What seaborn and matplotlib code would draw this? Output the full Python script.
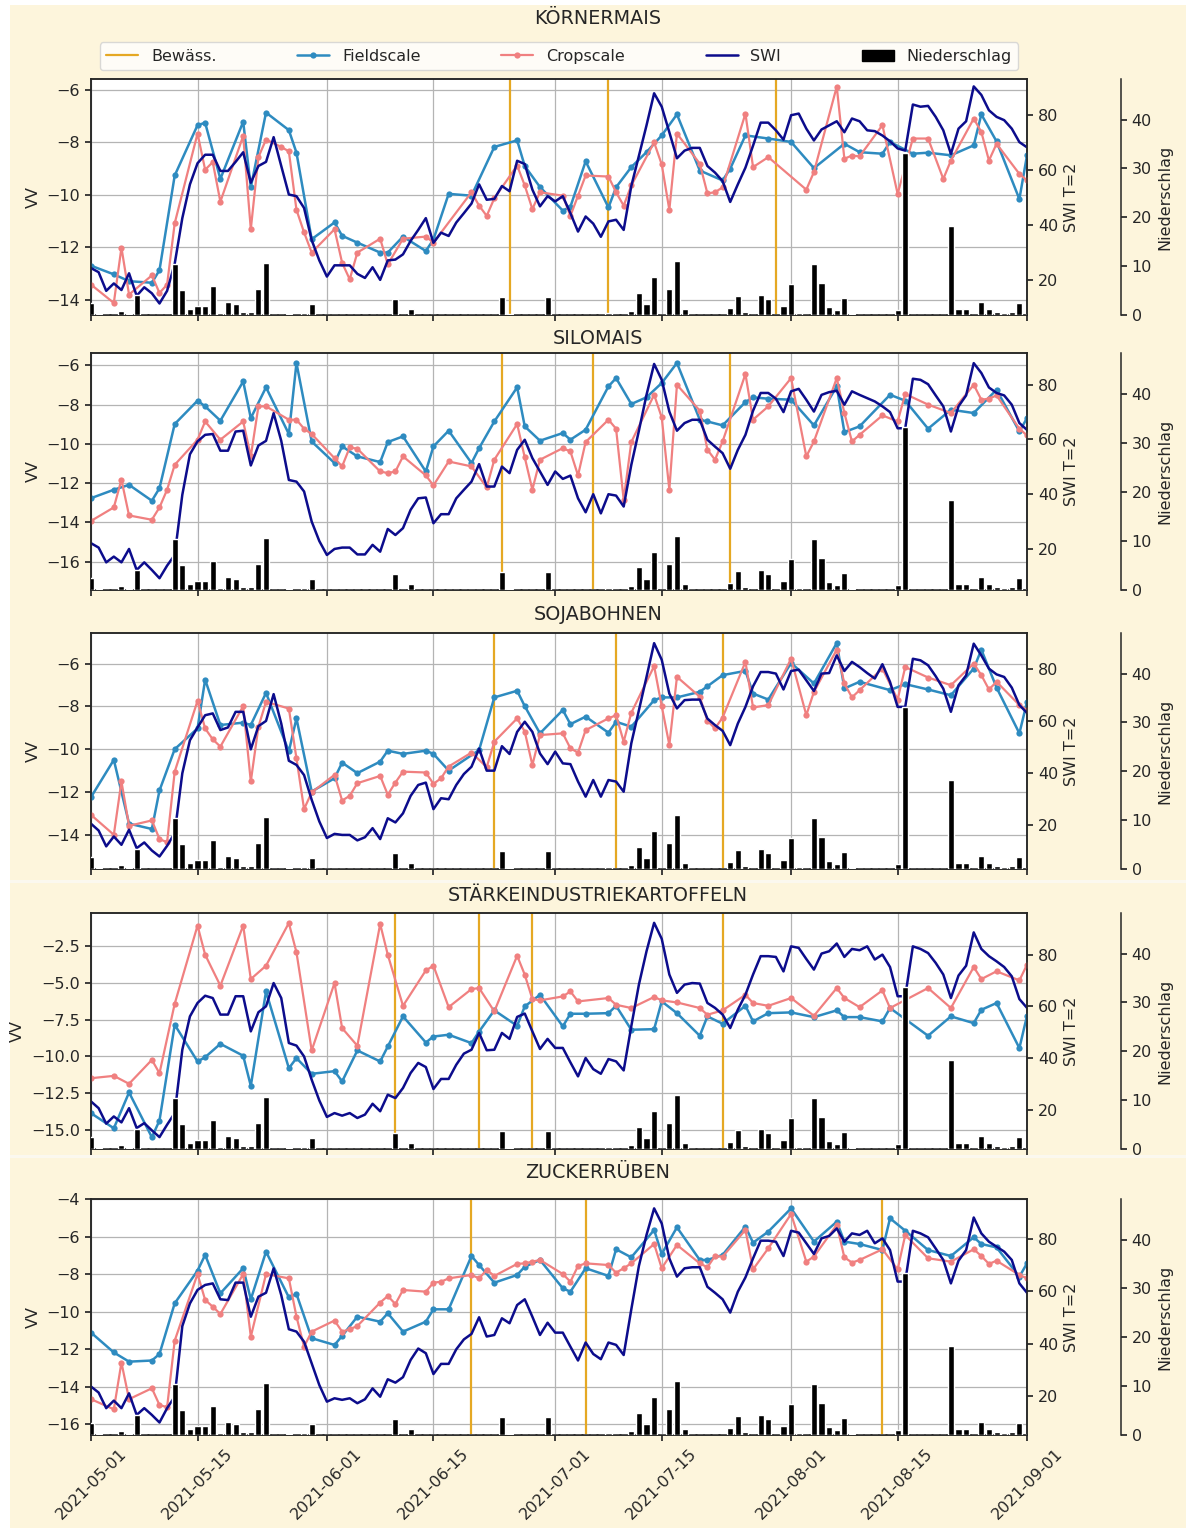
import pandas as pd
import matplotlib
matplotlib.use("Agg")
import matplotlib.pyplot as plt
import matplotlib.dates as mdates
from matplotlib.lines import Line2D
from matplotlib.patches import Patch, Rectangle
import seaborn as sns

START = pd.Timestamp("2021-05-01")
END = pd.Timestamp("2021-09-01")
DAYS = pd.date_range(START, END)  # daily, 124 values

TICK_DATES = ["2021-05-01", "2021-05-15", "2021-06-01", "2021-06-15", "2021-07-01",
              "2021-07-15", "2021-08-01", "2021-08-15", "2021-09-01"]

# Niederschlag (mm/Tag), 2021-05-01 ... 2021-09-01
niederschlag = [
    2.4, 0.15, 0, 0, 0.9, 0.3, 4.1, 0, 0, 0,
    0, 10.4, 5.1, 1.2, 1.9, 1.9, 6.0, 0.5, 2.6, 2.2,
    0.7, 0.7, 5.3, 10.6, 0, 0, 0.15, 0, 0.5, 2.2,
    0.1, 0, 0, 0, 0, 0, 0, 0, 0, 0,
    3.2, 0, 1.2, 0, 0, 0, 0, 0, 0, 0,
    0, 0, 0, 0, 3.7, 0.3, 0, 0, 0, 0,
    3.7, 0, 0, 0, 0, 0, 0, 0, 0.5, 0,
    0, 0.9, 4.6, 2.2, 7.7, 0, 5.3, 11.1, 1.2, 0,
    0, 0, 0, 0, 1.4, 3.9, 0.7, 0, 4.0, 3.3,
    0, 1.9, 6.3, 0.5, 0, 10.4, 6.5, 1.7, 1.0, 3.4,
    0.2, 0, 0, 0, 0, 0, 1.0, 33.2, 0, 0,
    0, 0, 0, 18.3, 1.2, 1.2, 0, 2.6, 1.2, 0.7,
    0.4, 0.7, 2.4, 0,
]

# ---------------- KÖRNERMAIS ----------------
km_field_day = [0, 3, 5, 8, 9, 11, 14, 15, 17, 20, 21, 23, 26, 27, 29, 32, 33, 35, 38, 39, 41, 44, 45, 47,
                50, 53, 56, 57, 59, 62, 63, 65, 68, 69, 71, 73, 75, 77, 80, 83, 84, 86, 89, 92, 95, 99, 101,
                104, 105, 108, 110, 113, 116, 117, 119, 122, 123]
km_field_vv = [-12.7, -13.03, -13.29, -13.35, -12.87, -9.26, -7.34, -7.25, -9.39, -7.21, -9.71, -6.86,
               -7.53, -8.39, -11.69, -11.05, -11.56, -11.82, -12.2, -12.2, -11.59, -12.14, -11.7, -9.96,
               -10.03, -8.17, -7.92, -8.9, -9.7, -10.6, -10.45, -8.72, -10.48, -9.71, -8.94, -8.37, -7.73,
               -6.93, -9.07, -9.45, -9.0, -7.73, -7.85, -7.98, -8.98, -8.05, -8.37, -8.43, -7.98, -8.43,
               -8.39, -8.49, -8.11, -6.93, -7.96, -10.16, -8.49]
km_crop_day = [0, 3, 4, 5, 8, 9, 10, 11, 14, 15, 16, 17, 20, 21, 22, 23, 25, 26, 27, 28, 29, 32, 33, 34, 35,
               38, 39, 41, 44, 45, 50, 51, 52, 53, 56, 57, 58, 59, 62, 63, 64, 65, 68, 69, 70, 71, 74, 75,
               76, 77, 80, 81, 82, 83, 86, 87, 89, 94, 95, 98, 99, 100, 101, 104, 106, 108, 110, 112, 113,
               116, 117, 118, 119, 122, 123]
km_crop_vv = [-13.42, -14.12, -12.01, -13.8, -13.07, -13.74, -13.42, -11.08, -7.66, -9.04, -8.75, -10.26,
              -7.75, -11.31, -8.56, -7.89, -8.17, -8.34, -10.57, -11.43, -12.2, -11.31, -12.59, -13.22,
              -12.2, -11.67, -12.65, -11.67, -11.59, -11.82, -9.9, -10.41, -10.8, -10.13, -8.88, -9.64,
              -10.54, -9.9, -10.03, -10.8, -10.03, -9.26, -9.3, -9.9, -10.41, -9.64, -8.0, -8.84, -10.57,
              -7.66, -8.81, -9.94, -9.9, -9.71, -6.9, -8.94, -8.56, -9.8, -9.13, -5.87, -8.62, -8.5, -8.53,
              -7.34, -9.96, -7.85, -7.85, -9.39, -8.69, -7.09, -7.6, -8.69, -8.05, -9.2, -9.45]
km_swi = [24.3, 22.8, 16.0, 18.7, 16.3, 22.4, 14.2, 17.3, 15.1, 11.4, 16.0,
          25.9, 42.5, 54.8, 62.5, 65.6, 65.6, 59.7, 59.7, 63.0, 66.5,
          55.4, 61.5, 63.0, 72.0, 61.5, 51.1, 50.5, 46.2, 34.5, 27.1,
          21.2, 25.3, 25.3, 25.3, 22.2, 20.7, 24.6, 20.0, 27.1, 27.4,
          29.3, 34.2, 38.2, 42.5, 33.5, 37.2, 36.0, 40.9, 44.3, 47.8,
          54.8, 49.2, 49.5, 54.2, 52.3, 63.4, 62.2, 52.9, 46.8, 50.5,
          48.6, 50.5, 44.3, 37.6, 43.1, 40.5, 35.7, 41.3, 41.9, 38.2,
          54.2, 65.2, 76.3, 88.0, 83.1, 73.8, 64.3, 67.1, 68.1, 68.1,
          61.5, 59.1, 56.0, 48.4, 54.8, 60.9, 68.9, 77.3, 77.3, 74.5,
          71.1, 80.0, 80.6, 75.1, 70.8, 74.8, 76.3, 77.8, 73.8, 78.8,
          77.8, 74.5, 74.2, 72.6, 70.5, 67.9, 67.1, 83.9, 83.1, 83.4,
          79.4, 74.5, 65.9, 75.1, 77.8, 90.5, 87.4, 81.8, 79.4, 78.2,
          75.1, 70.2, 68.3]
km_irrigation = [55, 68, 90]

# ---------------- SILOMAIS ----------------
sm_field_day = [0, 3, 5, 8, 9, 11, 14, 15, 17, 20, 21, 23, 26, 27, 29, 32, 33, 35, 38, 39, 41, 44, 45, 47,
                50, 51, 53, 56, 57, 59, 62, 63, 65, 68, 69, 71, 73, 75, 77, 80, 81, 83, 86, 87, 89, 92, 95,
                98, 99, 101, 105, 107, 110, 113, 116, 119, 122, 123]
sm_field_vv = [-12.77, -12.34, -12.09, -12.9, -12.26, -8.99, -7.8, -8.09, -8.82, -6.82, -8.69, -7.12, -9.5,
               -5.88, -9.88, -10.98, -10.13, -10.64, -10.93, -9.91, -9.62, -11.41, -10.13, -9.33, -10.98,
               -10.22, -8.86, -7.12, -9.11, -9.84, -9.45, -9.79, -9.28, -7.07, -6.65, -7.97, -7.63, -6.9,
               -5.88, -8.77, -8.86, -9.06, -7.87, -7.63, -7.7, -7.75, -9.06, -7.07, -9.4, -9.11, -7.5, -7.8,
               -9.23, -8.26, -8.43, -7.24, -9.37, -8.69]
sm_crop_day = [0, 3, 4, 5, 8, 9, 10, 11, 14, 15, 17, 20, 21, 22, 23, 26, 27, 28, 29, 32, 33, 34, 35, 38, 39,
               40, 41, 44, 45, 47, 50, 52, 53, 56, 57, 58, 59, 62, 63, 64, 65, 68, 69, 70, 71, 74, 75, 76,
               77, 80, 81, 82, 83, 86, 87, 89, 92, 94, 95, 98, 99, 100, 101, 104, 106, 107, 110, 113, 116,
               117, 118, 119, 122, 123]
sm_crop_vv = [-13.93, -13.24, -11.83, -13.65, -13.87, -13.24, -12.34, -11.07, -9.79, -8.86, -9.79, -8.86,
              -10.64, -8.09, -8.09, -8.77, -8.77, -9.23, -9.5, -10.73, -11.15, -10.18, -10.25, -11.41,
              -11.49, -11.41, -10.64, -11.61, -12.12, -10.9, -11.15, -12.22, -10.81, -8.99, -10.69, -12.34,
              -10.81, -10.22, -10.39, -11.61, -9.91, -8.77, -9.23, -12.85, -9.91, -7.5, -8.65, -12.34,
              -6.99, -8.31, -10.3, -10.81, -9.88, -6.44, -8.77, -8.09, -6.65, -10.64, -9.88, -6.65, -8.43,
              -9.88, -9.54, -8.55, -8.86, -7.46, -8.0, -8.43, -6.99, -7.75, -7.7, -7.53, -9.23, -9.57]
sm_swi = [22.1, 20.5, 15.1, 17.2, 15.1, 20.0, 12.3, 15.1, 12.3, 9.3, 13.9,
          17.8, 39.8, 54.6, 59.3, 61.7, 62.0, 55.9, 55.9, 62.9, 63.2,
          50.5, 57.8, 59.5, 69.6, 59.5, 45.2, 44.6, 41.0, 30.0, 22.9,
          17.8, 20.0, 20.5, 20.5, 18.0, 18.0, 21.5, 19.0, 27.3, 25.1,
          27.6, 34.3, 38.5, 38.8, 29.4, 32.7, 32.7, 38.5, 41.6, 44.6,
          51.0, 42.8, 42.8, 50.1, 47.7, 56.2, 59.9, 53.2, 48.3, 43.4,
          48.3, 45.6, 46.8, 38.5, 33.4, 40.0, 33.0, 40.0, 39.5, 35.5,
          50.7, 63.2, 76.3, 87.6, 81.8, 70.2, 63.2, 66.0, 67.2, 67.2,
          59.9, 57.4, 55.0, 49.3, 56.2, 61.7, 70.5, 77.0, 77.0, 74.9,
          70.0, 77.6, 78.5, 74.5, 70.2, 76.3, 77.3, 77.8, 72.7, 77.6,
          76.3, 75.1, 73.9, 72.1, 70.0, 64.1, 64.1, 82.2, 81.8, 80.2,
          76.1, 72.1, 62.9, 72.1, 76.1, 87.9, 84.3, 79.0, 77.0, 76.1,
          72.7, 66.0, 63.5]
sm_irrigation = [54, 66, 84]

# ---------------- SOJABOHNEN ----------------
sb_field_day = [0, 3, 5, 8, 9, 11, 14, 15, 17, 20, 21, 23, 26, 27, 29, 32, 33, 35, 38, 39, 41, 44, 45, 47,
                51, 53, 56, 57, 59, 62, 63, 65, 68, 69, 71, 74, 75, 77, 80, 81, 83, 86, 87, 89, 92, 95, 98,
                99, 101, 105, 107, 110, 113, 116, 117, 119, 122, 123]
sb_field_vv = [-12.24, -10.5, -13.48, -13.73, -11.93, -10.0, -9.03, -6.75, -8.87, -8.76, -8.87, -7.37,
               -10.1, -8.56, -11.98, -11.36, -10.63, -11.12, -10.58, -10.07, -10.22, -10.07, -10.22, -11.0,
               -10.04, -7.58, -7.27, -7.99, -9.26, -8.17, -8.83, -8.48, -9.23, -8.72, -8.95, -7.71, -7.58,
               -7.58, -7.32, -7.06, -6.54, -6.34, -7.4, -7.68, -5.97, -6.93, -5.04, -7.16, -6.85, -7.24,
               -6.96, -7.21, -7.48, -6.23, -5.35, -7.12, -9.26, -7.79]
sb_crop_day = [0, 3, 4, 5, 8, 9, 10, 11, 14, 15, 16, 17, 20, 21, 22, 23, 26, 27, 28, 29, 32, 33, 34, 35, 38,
               39, 40, 41, 44, 45, 46, 47, 50, 52, 53, 56, 57, 58, 59, 62, 63, 64, 65, 68, 69, 70, 71, 74,
               75, 76, 77, 80, 81, 82, 83, 86, 87, 89, 92, 94, 95, 98, 99, 100, 101, 104, 106, 107, 110,
               113, 116, 117, 118, 119, 122, 123]
sb_crop_vv = [-13.07, -14.0, -11.51, -13.58, -13.33, -14.2, -14.35, -11.05, -7.74, -9.03, -9.54, -9.88,
              -7.99, -11.51, -8.95, -7.79, -8.1, -10.43, -12.8, -12.02, -11.2, -12.4, -12.18, -11.59,
              -11.25, -12.13, -11.56, -11.05, -11.09, -11.62, -11.36, -10.81, -10.16, -10.84, -9.65, -8.56,
              -9.18, -10.74, -9.34, -9.26, -9.96, -10.16, -9.11, -8.56, -8.41, -9.65, -8.3, -6.12, -7.99,
              -9.8, -6.62, -7.55, -8.67, -9.03, -8.52, -5.92, -8.05, -7.94, -5.77, -8.41, -7.32, -5.35,
              -6.93, -7.58, -7.24, -6.23, -7.68, -6.16, -6.65, -7.01, -6.0, -6.54, -7.21, -6.85, -7.94,
              -8.17]
sb_swi = [20.4, 17.8, 11.7, 15.5, 12.3, 18.1, 11.0, 13.2, 10.1, 7.8, 11.9,
          16.8, 39.8, 52.5, 57.4, 62.1, 62.8, 56.4, 57.4, 63.4, 63.4,
          49.0, 57.9, 59.9, 70.2, 58.9, 44.6, 43.0, 39.1, 29.6, 21.3,
          14.9, 16.5, 16.1, 16.1, 14.0, 15.2, 18.7, 14.5, 22.5, 20.9,
          24.4, 31.1, 35.3, 36.2, 26.0, 30.2, 29.8, 35.3, 39.5, 42.3,
          49.3, 40.8, 40.8, 50.2, 47.2, 55.7, 59.6, 55.7, 47.4, 43.3,
          48.1, 43.6, 43.3, 36.6, 30.8, 37.2, 30.8, 37.2, 36.6, 32.7,
          51.3, 64.0, 76.8, 89.8, 83.4, 70.4, 64.7, 67.9, 68.1, 68.1,
          60.8, 58.3, 56.1, 50.6, 58.9, 65.3, 73.2, 78.7, 78.7, 78.1,
          72.0, 79.1, 79.6, 75.5, 71.4, 78.1, 78.3, 85.1, 79.1, 82.6,
          80.6, 78.3, 76.2, 81.7, 74.9, 65.3, 65.3, 83.8, 83.2, 81.3,
          77.1, 72.3, 63.4, 73.6, 77.4, 89.6, 85.1, 80.0, 77.8, 76.8,
          72.7, 66.0, 63.0]
sb_irrigation = [53, 69, 83]

# ---------------- STÄRKEINDUSTRIEKARTOFFELN ----------------
sk_field_day = [0, 3, 5, 8, 9, 11, 14, 15, 17, 20, 21, 23, 26, 27, 29, 32, 33, 35, 38, 39, 41, 44, 45, 47,
                50, 51, 53, 56, 57, 59, 62, 63, 65, 68, 69, 71, 74, 75, 77, 80, 81, 83, 86, 87, 89, 92, 95,
                98, 99, 101, 104, 105, 110, 113, 116, 117, 119, 122, 123]
sk_field_vv = [-13.86, -14.89, -12.45, -15.5, -14.36, -7.84, -10.34, -10.05, -9.14, -9.95, -12.0, -5.57,
               -10.8, -10.11, -11.18, -11.0, -11.7, -9.59, -10.34, -9.32, -7.27, -9.05, -8.64, -8.52, -9.09,
               -8.3, -6.86, -7.91, -6.59, -5.8, -7.95, -7.09, -7.09, -7.05, -6.55, -8.18, -8.14, -6.25,
               -7.05, -8.59, -7.27, -7.77, -6.55, -7.61, -7.05, -7.0, -7.32, -6.86, -7.32, -7.32, -7.61,
               -6.7, -8.59, -7.27, -7.73, -6.82, -6.36, -9.43, -7.23]
sk_crop_day = [0, 3, 5, 8, 9, 11, 14, 15, 17, 20, 21, 23, 26, 27, 29, 32, 33, 35, 38, 39, 41, 44, 45, 47,
               50, 51, 53, 56, 57, 58, 59, 62, 63, 64, 68, 69, 71, 74, 75, 77, 80, 81, 83, 86, 87, 89, 92,
               95, 98, 99, 101, 104, 105, 110, 113, 116, 117, 119, 122, 123]
sk_crop_vv = [-11.48, -11.32, -11.86, -10.23, -11.14, -6.41, -1.09, -3.07, -5.18, -1.09, -4.73, -3.82,
              -0.91, -2.91, -9.59, -5.0, -8.07, -9.27, -0.98, -3.07, -6.55, -4.14, -3.82, -6.64, -5.41,
              -5.34, -6.93, -3.14, -4.43, -6.09, -6.18, -5.91, -5.57, -6.25, -6.02, -6.48, -6.7, -5.95,
              -6.18, -6.32, -6.7, -7.16, -6.86, -5.8, -6.36, -6.55, -6.02, -7.23, -5.34, -6.02, -6.64,
              -5.5, -6.7, -5.34, -6.7, -3.91, -4.73, -4.2, -4.82, -3.75]
sk_swi = [23.2, 20.6, 14.6, 17.4, 15.1, 20.6, 12.9, 14.8, 12.0, 9.4, 14.2,
          18.7, 43.2, 56.1, 61.3, 64.1, 63.2, 56.8, 56.8, 63.9, 63.9,
          50.3, 57.7, 60.0, 69.0, 63.2, 45.8, 44.8, 40.6, 31.6, 23.6,
          17.2, 18.7, 17.7, 18.7, 16.8, 18.1, 22.3, 19.4, 25.8, 24.5,
          28.4, 34.2, 38.1, 36.5, 28.0, 31.9, 31.9, 37.4, 41.7, 43.2,
          49.7, 43.0, 43.2, 49.7, 47.4, 55.9, 57.2, 50.3, 43.5, 47.4,
          43.9, 43.9, 38.3, 32.9, 40.0, 35.7, 33.9, 39.6, 38.7, 35.2,
          52.3, 68.4, 81.3, 92.3, 86.1, 72.3, 65.2, 68.4, 69.0, 68.8,
          61.3, 59.4, 56.8, 51.6, 58.7, 64.5, 72.3, 79.4, 79.4, 79.1,
          73.5, 83.2, 82.6, 78.3, 74.2, 80.4, 81.3, 84.3, 79.1, 82.2,
          81.7, 83.2, 78.1, 80.0, 75.2, 63.9, 63.9, 83.2, 82.2, 80.6,
          76.8, 72.3, 63.2, 71.9, 75.7, 88.6, 82.2, 79.4, 77.4, 75.2,
          71.6, 62.8, 59.4]
sk_irrigation = [40, 51, 58, 83]

# ---------------- ZUCKERRÜBEN ----------------
zr_field_day = [0, 3, 5, 8, 9, 11, 14, 15, 17, 20, 21, 23, 26, 27, 29, 32, 33, 35, 38, 39, 41, 44, 45, 47,
                50, 51, 53, 56, 57, 59, 62, 63, 65, 68, 69, 71, 74, 75, 77, 80, 81, 83, 86, 87, 89, 92, 95,
                98, 99, 101, 104, 105, 107, 110, 113, 116, 117, 119, 122, 123]
zr_field_vv = [-11.12, -12.18, -12.67, -12.61, -12.26, -9.56, -7.82, -6.98, -9.03, -7.69, -9.35, -6.81,
               -9.24, -9.06, -11.42, -11.78, -11.3, -10.27, -10.54, -10.09, -11.07, -10.54, -9.88, -9.88,
               -7.04, -7.52, -8.46, -8.05, -7.61, -7.25, -8.76, -8.94, -7.69, -8.1, -6.68, -7.11, -5.65,
               -6.93, -5.51, -7.25, -7.25, -6.98, -5.47, -6.33, -5.74, -4.5, -6.27, -5.21, -6.27, -6.4,
               -6.72, -5.03, -5.69, -6.72, -7.04, -6.04, -6.4, -6.58, -8.14, -7.43]
zr_crop_day = [0, 3, 4, 5, 8, 9, 10, 11, 14, 15, 16, 17, 20, 21, 23, 26, 27, 28, 29, 32, 33, 34, 35, 38, 39,
               40, 41, 44, 45, 46, 47, 50, 51, 52, 53, 56, 57, 58, 59, 62, 63, 64, 65, 68, 69, 70, 71, 74,
               75, 77, 80, 81, 82, 83, 86, 87, 89, 92, 94, 95, 98, 99, 100, 101, 104, 106, 107, 110, 113,
               116, 117, 118, 119, 122, 123]
zr_crop_vv = [-14.67, -15.21, -12.72, -14.67, -14.09, -14.98, -15.1, -11.55, -8.0, -9.38, -9.74, -10.13,
              -8.0, -11.34, -8.0, -8.23, -10.27, -11.87, -11.07, -10.48, -11.07, -10.94, -10.77, -9.52,
              -9.17, -9.6, -8.85, -8.94, -8.46, -8.41, -8.23, -8.05, -8.23, -7.78, -8.1, -7.46, -7.43,
              -7.34, -7.25, -8.0, -8.41, -7.57, -7.43, -7.52, -7.93, -7.69, -7.43, -6.4, -7.69, -6.45,
              -7.43, -7.64, -7.04, -7.07, -5.65, -7.75, -6.63, -4.8, -7.34, -7.07, -5.38, -7.11, -7.39,
              -7.25, -6.68, -7.75, -5.92, -7.16, -7.34, -6.68, -7.04, -7.46, -7.29, -8.05, -8.23]
zr_swi = [23.5, 21.2, 15.2, 18.1, 15.2, 20.9, 12.6, 15.2, 12.6, 9.7, 15.2,
          19.6, 46.7, 55.4, 60.6, 62.5, 63.1, 57.0, 56.7, 63.4, 63.4,
          50.3, 58.0, 59.5, 68.9, 58.6, 45.5, 44.6, 40.7, 32.4, 24.1,
          17.7, 19.0, 18.4, 19.0, 17.1, 18.6, 22.8, 19.6, 26.3, 25.0,
          27.1, 33.7, 38.1, 36.3, 28.3, 32.2, 32.2, 37.8, 41.6, 43.7,
          50.1, 42.7, 43.3, 49.7, 47.8, 54.8, 57.0, 50.3, 43.3, 48.0,
          44.2, 44.2, 38.8, 33.5, 40.4, 36.0, 34.0, 40.4, 39.5, 35.6,
          53.1, 69.8, 81.7, 91.9, 86.1, 72.7, 65.7, 68.9, 69.3, 69.3,
          61.8, 59.5, 57.0, 51.9, 59.9, 65.4, 72.7, 79.5, 79.5, 79.1,
          73.6, 83.3, 82.6, 78.5, 74.4, 80.4, 81.3, 84.2, 79.1, 82.3,
          81.7, 83.3, 78.5, 80.4, 75.9, 63.8, 63.8, 83.3, 82.3, 80.8,
          76.5, 72.1, 63.1, 71.8, 75.9, 88.4, 82.3, 79.1, 77.2, 75.3,
          72.1, 63.1, 59.5]
zr_irrigation = [50, 65, 104]

titles = ["KÖRNERMAIS", "SILOMAIS", "SOJABOHNEN", "STÄRKEINDUSTRIEKARTOFFELN", "ZUCKERRÜBEN"]
vv_ticks = [[-14, -12, -10, -8, -6],
            [-16, -14, -12, -10, -8, -6],
            [-14, -12, -10, -8, -6],
            [-15.0, -12.5, -10.0, -7.5, -5.0, -2.5],
            [-16, -14, -12, -10, -8, -6, -4]]

panels = [
    dict(fd=km_field_day, fv=km_field_vv, cd=km_crop_day, cv=km_crop_vv, swi=km_swi, irr=km_irrigation),
    dict(fd=sm_field_day, fv=sm_field_vv, cd=sm_crop_day, cv=sm_crop_vv, swi=sm_swi, irr=sm_irrigation),
    dict(fd=sb_field_day, fv=sb_field_vv, cd=sb_crop_day, cv=sb_crop_vv, swi=sb_swi, irr=sb_irrigation),
    dict(fd=sk_field_day, fv=sk_field_vv, cd=sk_crop_day, cv=sk_crop_vv, swi=sk_swi, irr=sk_irrigation),
    dict(fd=zr_field_day, fv=zr_field_vv, cd=zr_crop_day, cv=zr_crop_vv, swi=zr_swi, irr=zr_irrigation),
]

# layout (pixel rows of each panel) and axis ranges
W, H = 1186, 1528
axes_px = [(79, 315), (353, 590), (633, 869), (913, 1149), (1199, 1435)]
title_px = [18, 338, 614, 896, 1173]
vv_lims = [(-14.58, -5.58), (-17.45, -5.37), (-15.6, -4.57), (-16.3, -0.23), (-16.58, -4.0)]
swi_lims = [(7.2, 93.2), (5.0, 91.6), (3.0, 93.7), (4.8, 96.1), (4.9, 95.5)]

C_FIELD = "#2e8bc0"
C_CROP = "#f08080"
C_SWI = "#0c0c8c"
C_IRR = "#e5a823"
CREAM = "#fdf5dc"
TXT = "#262626"

sns.set_theme(style="ticks")
plt.rcParams.update({
    "font.family": ["DejaVu Sans"],
    "font.size": 11.5,
    "axes.labelsize": 11.5,
    "xtick.labelsize": 11.5,
    "ytick.labelsize": 11.5,
    "legend.fontsize": 11.5,
    "axes.edgecolor": TXT,
    "axes.labelcolor": TXT,
    "text.color": TXT,
    "xtick.color": TXT,
    "ytick.color": TXT,
    "axes.linewidth": 1.1,
    "xtick.major.size": 4.5,
    "ytick.major.size": 4.5,
})


def to_dates(offsets):
    return START + pd.to_timedelta(offsets, unit="D")


fig = plt.figure(figsize=(W / 100, H / 100), dpi=100, facecolor="white")
fig.add_artist(Rectangle((10 / W, 0), 1 - 10 / W, 1 - 5 / H, transform=fig.transFigure,
                         facecolor=CREAM, edgecolor="none", zorder=-10))
for ys in (881, 1156):
    fig.add_artist(Rectangle((10 / W, 1 - (ys + 2) / H), 1 - 10 / W, 3 / H, transform=fig.transFigure,
                             facecolor="#fbf8ef", edgecolor="none", zorder=-9))

left, width = 91 / W, 936 / W
tick_dates = pd.to_datetime(TICK_DATES)

for i, p in enumerate(panels):
    top, bot = axes_px[i]
    ax = fig.add_axes([left, 1 - bot / H, width, (bot - top) / H])
    ax.set_facecolor("white")
    ax.grid(True, color="#b4b4b4", linewidth=0.9)
    ax.set_axisbelow(True)

    for d in p["irr"]:
        ax.axvline(START + pd.Timedelta(days=d), color=C_IRR, lw=1.6, zorder=2)

    sns.lineplot(x=to_dates(p["fd"]), y=p["fv"], ax=ax, color=C_FIELD, marker="o", markersize=4.5,
                 markeredgewidth=0, linewidth=1.8, zorder=3)
    sns.lineplot(x=to_dates(p["cd"]), y=p["cv"], ax=ax, color=C_CROP, marker="o", markersize=4.5,
                 markeredgewidth=0, linewidth=1.6, zorder=3)

    ax.set_xlim(START, END)
    ax.set_ylim(*vv_lims[i])
    ax.set_yticks(vv_ticks[i])
    ax.set_ylabel("VV")
    ax.set_xlabel("")
    ax.set_xticks(tick_dates)
    ax.xaxis.set_major_formatter(mdates.DateFormatter("%Y-%m-%d"))
    if i < 4:
        ax.tick_params(axis="x", labelbottom=False)
    else:
        plt.setp(ax.get_xticklabels(), rotation=45, ha="center")

    # SWI on the first right axis
    ax2 = ax.twinx()
    sns.lineplot(x=DAYS, y=p["swi"], ax=ax2, color=C_SWI, linewidth=1.8)
    ax2.set_ylim(*swi_lims[i])
    ax2.set_yticks([20, 40, 60, 80])
    ax2.set_ylabel("SWI T=2")
    ax2.grid(False)

    # daily precipitation on an offset right axis
    ax3 = ax.twinx()
    ax3.bar(DAYS, niederschlag, width=0.8, color="black", zorder=4)
    ax3.spines["right"].set_position(("axes", 1.1))
    for s in ("top", "bottom", "left"):
        ax3.spines[s].set_visible(False)
    ax3.set_ylim(0, 48.3)
    ax3.set_yticks([0, 10, 20, 30, 40])
    ax3.set_ylabel("Niederschlag")
    ax3.grid(False)
    ax.set_xlim(START, END)

    fig.text(598 / W, 1 - title_px[i] / H, titles[i], ha="center", va="center", fontsize=13.8, color=TXT)

    if i == 0:
        handles = [
            Line2D([], [], color=C_IRR, lw=1.6),
            Line2D([], [], color=C_FIELD, lw=1.8, marker="o", ms=4.5, mew=0),
            Line2D([], [], color=C_CROP, lw=1.6, marker="o", ms=4.5, mew=0),
            Line2D([], [], color=C_SWI, lw=1.8),
            Patch(facecolor="black", edgecolor="black"),
        ]
        labels = ["Bewäss.", "Fieldscale", "Cropscale", "SWI", "Niederschlag"]
        ax.legend(handles, labels, loc="lower left", bbox_to_anchor=(0, 1.0, 1, 0.12), mode="expand",
                  ncol=5, borderaxespad=0.55, frameon=True, fancybox=True, framealpha=0.8,
                  edgecolor="0.82", facecolor="white")

fig.savefig("out.png", dpi=100, facecolor=fig.get_facecolor())
